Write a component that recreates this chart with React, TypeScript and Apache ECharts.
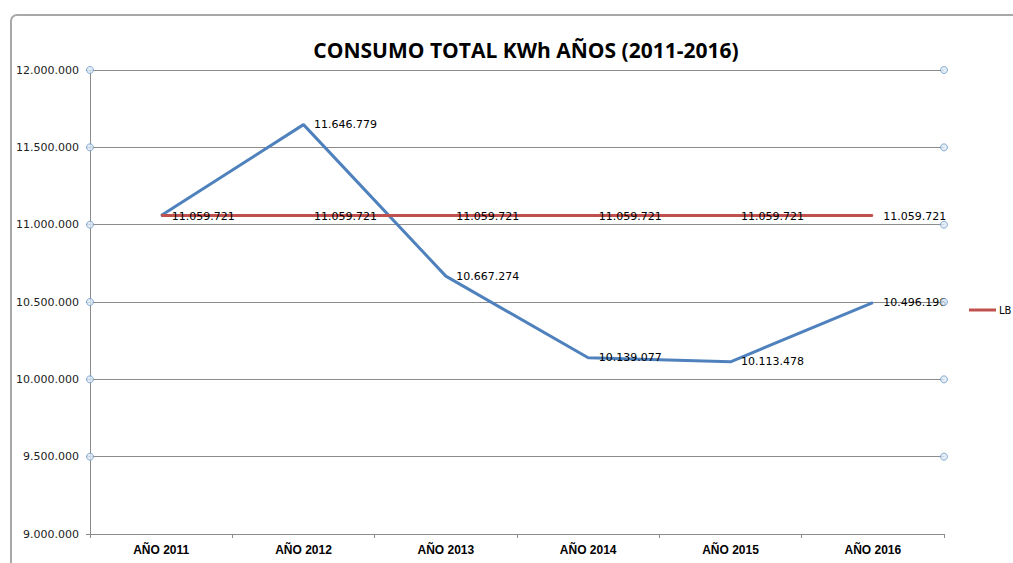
import React, { useEffect, useRef } from "react";
import * as echarts from "echarts";

const categories = ["AÑO 2011", "AÑO 2012", "AÑO 2013", "AÑO 2014", "AÑO 2015", "AÑO 2016"];
const consumo = [11059721, 11646779, 10667274, 10139077, 10113478, 10496196];
const lineaBase = [11059721, 11059721, 11059721, 11059721, 11059721, 11059721];
const circleTicks = [9500000, 10000000, 10500000, 11000000, 11500000, 12000000];

const fmt = (v: number) => String(Math.round(v)).replace(/\B(?=(\d{3})+(?!\d))/g, ".");

export default function App() {
  const ref = useRef<HTMLDivElement>(null);
  useEffect(() => {
    if (!ref.current) return;
    const chart = echarts.init(ref.current, undefined, { renderer: "svg" });
    const labelStyle = {
      show: true,
      position: "right" as const,
      distance: 10,
      color: "#000",
      fontSize: 11,
      fontFamily: "DejaVu Sans",
      formatter: (p: any) => fmt(p.value),
    };
    const circles: number[][] = [];
    circleTicks.forEach((t) => {
      circles.push([0, t]);
      circles.push([1, t]);
    });
    // the first blue label sits under the identical red one in the reference
    const consumoData = consumo.map((v, i) => (i === 0 ? { value: v, label: { show: false } } : v));
    chart.setOption({
      animation: false,
      backgroundColor: "#fff",
      title: {
        text: "CONSUMO TOTAL KWh AÑOS (2011-2016)",
        left: 521,
        textAlign: "center",
        top: 34,
        textStyle: { fontFamily: "Open Sans", fontWeight: "bold", fontSize: 21, color: "#000" },
      },
      graphic: [
        {
          type: "rect",
          shape: { x: 11, y: 15, width: 1100, height: 600, r: [6, 0, 0, 0] },
          style: { fill: "none", stroke: "#a8a8a8", lineWidth: 2 },
          silent: true,
          z: -1,
        },
      ],
      legend: {
        data: ["LB"],
        left: 969,
        top: 305,
        padding: 0,
        orient: "vertical",
        icon: "rect",
        itemWidth: 27,
        itemHeight: 3,
        itemGap: 2,
        textStyle: { fontSize: 10, fontFamily: "DejaVu Sans", color: "#000", padding: [0, 0, 0, -2] },
      },
      grid: { left: 90, right: 69, top: 70, bottom: 29, containLabel: false },
      xAxis: [
        {
          type: "category",
          data: categories,
          boundaryGap: true,
          axisLine: { show: true, lineStyle: { color: "#8c8c8c", width: 1 } },
          axisTick: { show: true, length: 4, lineStyle: { color: "#8c8c8c" } },
          axisLabel: {
            fontFamily: "Liberation Sans",
            fontWeight: "bold",
            fontSize: 12,
            color: "#000",
            margin: 10,
          },
        },
        { type: "value", min: 0, max: 1, show: false },
      ],
      yAxis: {
        type: "value",
        min: 9000000,
        max: 12000000,
        interval: 500000,
        axisLine: { show: true, lineStyle: { color: "#8c8c8c", width: 1 } },
        axisTick: { show: true, length: 4, lineStyle: { color: "#8c8c8c" } },
        splitLine: { show: true, lineStyle: { color: "#8c8c8c", width: 1 } },
        axisLabel: {
          fontFamily: "DejaVu Sans",
          fontSize: 11,
          color: "#222",
          margin: 11,
          formatter: (v: number) => fmt(v),
        },
      },
      series: [
        {
          name: "CONSUMO",
          type: "line",
          data: consumoData,
          symbol: "circle",
          symbolSize: 1,
          itemStyle: { color: "#4F81BD" },
          lineStyle: { color: "#4F81BD", width: 3 },
          label: labelStyle,
          z: 2,
        },
        {
          name: "LB",
          type: "line",
          data: lineaBase,
          symbol: "circle",
          symbolSize: 1,
          itemStyle: { color: "#C0504D" },
          lineStyle: { color: "#C0504D", width: 3 },
          label: { ...labelStyle, offset: [0, 1] },
          z: 3,
        },
        {
          name: "marks",
          type: "scatter",
          xAxisIndex: 1,
          data: circles,
          symbol: "circle",
          symbolSize: 7,
          itemStyle: { color: "#dce8f5", borderColor: "#6f9ac7", borderWidth: 1 },
          silent: true,
          z: 4,
        },
      ],
    });
    return () => chart.dispose();
  }, []);
  return (
    <div
      ref={ref}
      style={{ position: "fixed", left: 0, top: 0, width: 1013, height: 563 }}
    />
  );
}
